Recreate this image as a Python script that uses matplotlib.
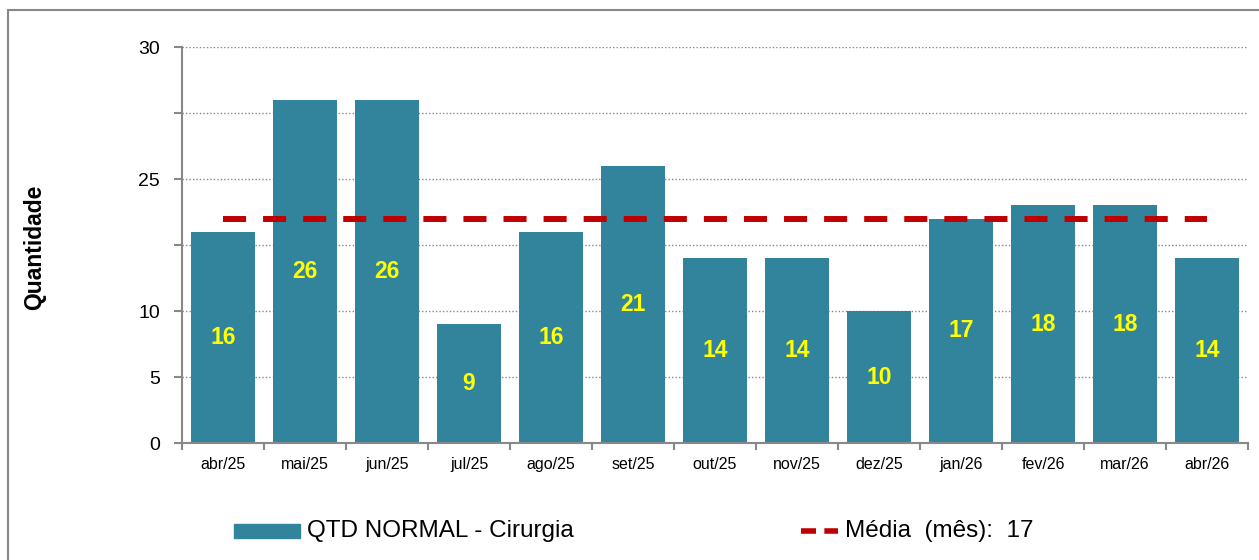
import numpy as np
import matplotlib
matplotlib.use('Agg')
import matplotlib.pyplot as plt
from matplotlib.patches import Rectangle
from matplotlib.lines import Line2D

months = ['abr/25', 'mai/25', 'jun/25', 'jul/25', 'ago/25', 'set/25', 'out/25',
          'nov/25', 'dez/25', 'jan/26', 'fev/26', 'mar/26', 'abr/26']
qtd = [16, 26, 26, 9, 16, 21, 14, 14, 10, 17, 18, 18, 14]
media = 17
y_ticks = [0, 5, 10, 15, 20, 25, 30]
y_tick_labels = ['0', '5', '10', '', '25', '', '30']

teal = '#31849B'
red = '#C00000'
font = ['Liberation Sans', 'DejaVu Sans']
plt.rcParams['font.family'] = font

fig = plt.figure(figsize=(12.59, 5.6), dpi=100)
ax = fig.add_axes([182 / 1259, 1 - 443 / 560, (1248 - 182) / 1259, (443 - 47) / 560])

ind = np.arange(len(months))
bars = ax.bar(ind, qtd, width=0.77, color=teal, zorder=2)
for x, v in zip(ind, qtd):
    ax.text(x, v / 2, str(v), ha='center', va='center', color='#FFFF00',
            fontsize=16.5, fontweight='bold', zorder=4)

ax.plot([ind[0], ind[-1]], [media, media], color=red, lw=4.3, dashes=(3.86, 2.85), zorder=3)

ax.set_xlim(-0.5, len(months) - 0.5)
ax.set_ylim(0, 30)
ax.set_yticks(y_ticks)
ax.set_yticklabels(y_tick_labels, fontsize=14)
ax.set_xticks(ind)
ax.set_xticklabels(months, fontsize=11.5)
ax.set_xticks(np.arange(-0.5, len(months)), minor=True)
ax.tick_params(axis='x', which='major', length=0, pad=10)
ax.tick_params(axis='x', which='minor', length=5, color='#888888', width=1.5)
ax.tick_params(axis='y', length=6, color='#888888', width=1.5, pad=10)

ax.yaxis.grid(True, linestyle=(0, (1, 1.5)), color='#888888', lw=1, zorder=0)
ax.set_axisbelow(True)
for s in ['top', 'right']:
    ax.spines[s].set_visible(False)
for s in ['left', 'bottom']:
    ax.spines[s].set_color('#888888')
    ax.spines[s].set_linewidth(1.5)

fig.text(35 / 1259, 1 - 247 / 560, 'Quantidade', rotation=90, ha='center', va='center',
         fontsize=16.5, fontweight='bold')

# outer frame
fig.patches.append(Rectangle((8 / 1259, -0.05), 1.2, 1 - 10 / 560 + 0.05,
                             transform=fig.transFigure, fill=False,
                             edgecolor='#888888', lw=1.5))

# legend
ly = 1 - 531 / 560
fig.patches.append(Rectangle((234 / 1259, 1 - 538 / 560), 66 / 1259, 14 / 560,
                             transform=fig.transFigure, color=teal))
fig.text(307 / 1259, ly, 'QTD NORMAL - Cirurgia', va='center', fontsize=17.5)
fig.lines.append(Line2D([801 / 1259, 838 / 1259], [ly, ly], transform=fig.transFigure,
                        color=red, lw=4, dashes=(2.7, 1.5)))
fig.text(845 / 1259, ly, 'Média  (mês):  17', va='center', fontsize=17.5)

fig.savefig('out.png', dpi=100)
